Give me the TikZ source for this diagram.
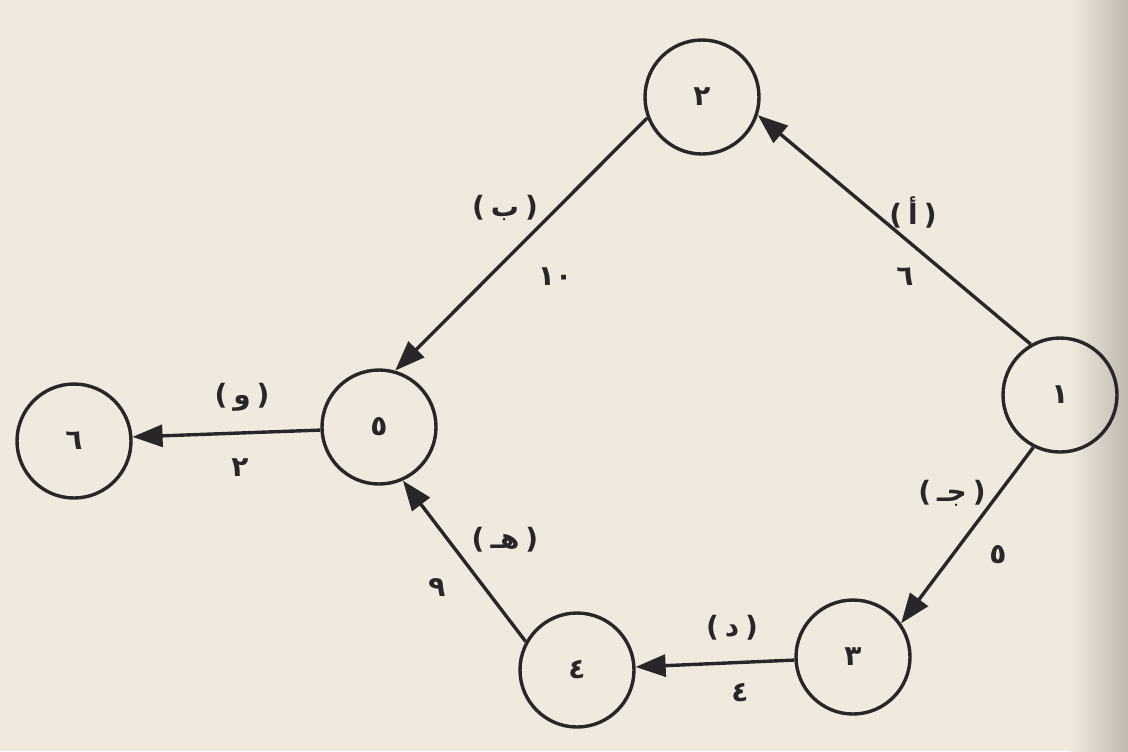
\documentclass[tikz,border=0pt]{standalone}
\usepackage{fontspec}
\usetikzlibrary{arrows.meta}
\newfontfamily\arabicfont[Script=Arabic]{DejaVu Sans}
\newfontfamily\latinfont{DejaVu Sans}
\TeXXeTstate=1
\definecolor{paper}{RGB}{240,234,222}
\definecolor{shadowc}{RGB}{190,184,174}
\definecolor{ink}{RGB}{42,37,40}
\newcommand\plabel[1]{{\latinfont\bfseries(}\kern3pt{\arabicfont\bfseries\beginR #1\endR}\kern3pt{\latinfont\bfseries)}}
\begin{document}
\begin{tikzpicture}[x=0.5pt,y=-0.5pt,
  state/.style={circle,draw=ink,line width=1.7pt,minimum size=57pt,inner sep=0pt,
    font=\arabicfont\bfseries\fontsize{14}{14}\selectfont,text=ink},
  edge/.style={draw=ink,line width=1.7pt,-{Triangle[length=15pt,width=11pt]}},
  lbl/.style={font=\arabicfont\bfseries\fontsize{14}{14}\selectfont,text=ink,inner sep=0pt}]
\fill[paper] (0,0) rectangle (1128,751);
\shade[left color=paper,right color=shadowc] (1070,0) rectangle (1128,751);
\useasboundingbox (0,0) rectangle (1128,751);

\node[state] (n1) at (1060,395) {١};
\node[state] (n2) at (702,97) {٢};
\node[state] (n3) at (853,657) {٣};
\node[state] (n4) at (577,670) {٤};
\node[state] (n5) at (379,427) {٥};
\node[state] (n6) at (74,441) {٦};

\draw[edge] (n1.120) -- (n2.-18);
\draw[edge] (n2.201) -- (n5.74);
\draw[edge] (n1.243) -- (n3.35);
\draw[edge] (n3.183) -- (n4.3);
\draw[edge] (n4.151) -- (n5.294);
\draw[edge] (n5.183) -- (n6.4);

\node[lbl] (la) at (913,212) {\plabel{أ}};
\node[lbl] (na) at (905,277) {٦};
\node[lbl] (lb) at (505,208) {\plabel{ب}};
\node[lbl] (nb) at (555,277) {١٠};
\node[lbl] (lc) at (952,493) {\plabel{جـ}};
\node[lbl] (nc) at (998,555) {٥};
\node[lbl] (ld) at (732,628) {\plabel{د}};
\node[lbl] (nd) at (740,693) {٤};
\node[lbl] (le) at (505,540) {\plabel{هـ}};
\node[lbl] (ne) at (437,588) {٩};
\node[lbl] (lf) at (242,397) {\plabel{و}};
\node[lbl] (nf) at (240,468) {٢};
\end{tikzpicture}
\end{document}
